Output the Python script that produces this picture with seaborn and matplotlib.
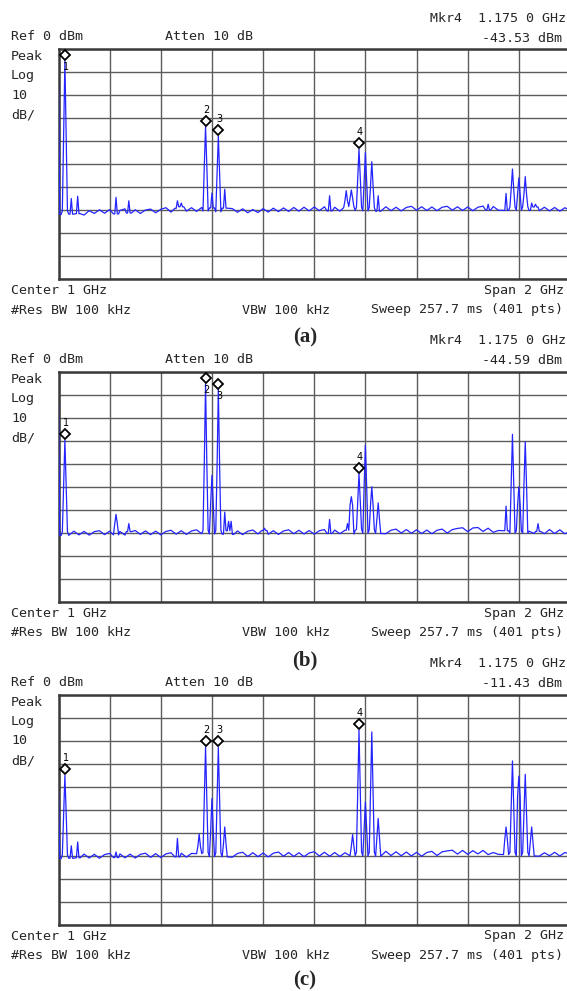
import numpy as np
import pandas as pd
import matplotlib
matplotlib.use("Agg")
import matplotlib.pyplot as plt
import seaborn as sns

sns.set_style("white")
plt.rcParams['font.family'] = ['DejaVu Sans']

# ---------------- data ----------------
floor_step = 20  # MHz between floor samples
a_floor = [-72.0,-70.4,-71.8,-70.1,-71.6,-72.2,-70.3,-71.5,-69.9,-71.4,
           -69.8,-71.7,-70.2,-69.5,-71.3,-69.9,-71.5,-70.0,-69.6,-71.2,
           -69.7,-69.0,-70.9,-69.3,-68.6,-70.5,-69.0,-70.6,-68.9,-70.4,
           -69.1,-70.8,-69.2,-70.9,-69.4,-71.0,-69.5,-71.2,-69.8,-71.1,
           -69.4,-70.9,-69.2,-70.7,-69.1,-70.6,-68.9,-70.5,-68.8,-70.4,
           -68.7,-70.3,-68.6,-70.4,-68.8,-70.5,-69.0,-68.5,-70.2,-68.8,
           -70.4,-68.9,-70.5,-69.0,-68.6,-70.3,-68.8,-70.4,-68.9,-68.4,
           -70.1,-68.6,-70.2,-68.7,-70.3,-68.8,-68.4,-70.1,-68.6,-70.2,
           -68.7,-70.3,-68.8,-68.3,-70.0,-68.5,-70.1,-68.6,-70.2,-68.7,
           -70.1,-68.6,-70.2,-68.7,-70.3,-68.8,-70.4,-68.9,-70.5,-69.0,
           -70.2]
b_floor = [-71.2,-69.6,-71.1,-69.3,-70.9,-69.4,-71.0,-69.5,-69.1,-70.8,
           -69.3,-70.9,-69.4,-71.0,-69.5,-69.0,-70.7,-69.2,-70.8,-69.3,
           -70.9,-69.4,-68.9,-70.6,-69.1,-70.7,-69.2,-68.7,-70.4,-68.9,
           -70.5,-69.0,-70.6,-69.1,-70.7,-69.2,-70.8,-69.3,-68.8,-70.5,
           -69.0,-70.6,-69.1,-70.7,-69.2,-68.7,-70.4,-68.9,-70.5,-69.0,
           -70.6,-69.1,-68.6,-70.3,-68.8,-70.4,-68.9,-70.5,-69.0,-68.5,
           -70.2,-68.7,-70.3,-68.8,-70.4,-68.9,-68.4,-70.1,-68.6,-70.2,
           -68.7,-70.3,-68.8,-70.4,-68.9,-68.4,-70.1,-68.6,-68.1,-67.8,
           -69.5,-67.9,-67.7,-69.4,-68.0,-69.8,-69.0,-70.0,-69.1,-70.1,
           -69.2,-70.2,-69.3,-70.3,-69.4,-70.4,-68.6,-70.3,-68.7,-70.4,
           -69.5]
c_floor = [-71.4,-69.7,-71.2,-69.3,-71.0,-69.4,-71.1,-69.5,-71.2,-69.6,
           -69.1,-70.9,-69.3,-71.0,-69.4,-71.1,-69.5,-69.0,-70.8,-69.2,
           -70.9,-69.3,-68.8,-70.6,-69.0,-70.7,-69.1,-70.8,-69.2,-68.7,
           -70.5,-68.9,-70.6,-69.0,-70.7,-69.1,-68.6,-70.4,-68.8,-70.5,
           -68.9,-70.6,-69.0,-68.5,-70.3,-68.7,-70.4,-68.8,-70.5,-68.9,
           -68.4,-70.2,-68.6,-70.3,-68.7,-70.4,-68.8,-68.3,-70.1,-68.5,
           -70.2,-68.6,-70.3,-68.7,-68.2,-70.0,-68.4,-70.1,-68.5,-70.2,
           -68.6,-70.3,-68.7,-68.2,-70.0,-68.4,-68.0,-67.7,-69.4,-67.8,
           -69.5,-67.9,-69.3,-67.8,-69.6,-68.7,-69.5,-68.6,-69.6,-68.7,
           -70.1,-68.6,-70.2,-68.7,-70.3,-68.8,-70.1,-68.6,-70.2,-68.7,
           -69.4]

# spikes: frequency (MHz), peak level (dBm), neighbour-bin level (dBm or None)
a_spk_f = [0, 25, 50, 75, 225, 275, 465, 480, 575, 600, 625, 650,
           1060, 1125, 1145, 1175, 1200, 1225, 1250, 1680, 1750, 1775, 1800, 1825, 1850, 1865]
a_spk_pk = [-14, -5.2, -65, -64, -64.5, -66, -66, -67, -33.8, -62.6, -37.8, -61,
            -63.8, -61.6, -61.3, -43.5, -45, -49, -63.8, -67.5, -62.8, -52.2, -56, -55.5, -67, -67.5]
a_spk_sk = [None, -37.5, None, None, None, None, None, None, -51, None, -53.8, None,
            None, -66, -65, -56.5, -57.5, -59.6, None, None, None, -61, -63, -63, None, None]

b_spk_f = [0, 25, 225, 275, 575, 600, 625, 650, 665, 675, 805,
           1060, 1130, 1145, 1175, 1200, 1225, 1250, 1750, 1775, 1800, 1825, 1875]
b_spk_pk = [-14.5, -29.7, -62, -66, -5.2, -45, -7.7, -61, -65, -65, -68,
            -64.2, -66, -54.3, -44.3, -31.9, -50, -57, -58.4, -27.2, -50, -30.4, -66]
b_spk_sk = [None, -50, -66, None, -40, -57, -41.3, None, None, None, None,
            None, None, -58, -56.5, -50, -58, -64, None, -47.8, -58, -49, None]

c_spk_f = [0, 25, 50, 75, 225, 465, 550, 575, 600, 625, 650,
           1150, 1175, 1200, 1225, 1250, 1750, 1775, 1800, 1825, 1850]
c_spk_pk = [-42.6, -35.2, -65.8, -64.1, -68.5, -62.6, -60.7, -22.8, -45.2, -23, -57.6,
            -60.9, -15.5, -46.7, -16.3, -53.9, -57.6, -28.9, -35.5, -34.7, -57.6]
c_spk_sk = [None, -51.7, None, None, None, None, -66, -46, -59, -46, -65,
            -66, -42.3, -58.6, -43, -62, -63, -49.3, -44.2, -51.7, -64]

# markers: frequency, label side
marker_f = [25, 575, 625, 1175]
a_lbl_side = ['below', 'above', 'above', 'above']
b_lbl_side = ['above', 'below', 'below', 'above']
c_lbl_side = ['above', 'above', 'above', 'above']

mkr_values = ['-43.53 dBm', '-44.59 dBm', '-11.43 dBm']
panel_labels = ['(a)', '(b)', '(c)']

# ---------------- helpers ----------------
W, H = 567, 991
fig = plt.figure(figsize=(W / 100, H / 100), dpi=100)

def fx(x):
    return x / W

def fy(y):
    return 1 - y / H

def build_trace(floor, spk_f, spk_pk, spk_sk):
    n = len(floor)
    pts = {}
    for i in range(n):
        f = i * floor_step
        if all(abs(f - s) >= 12 for s in spk_f):
            pts[f] = floor[i]
    def put(f, v):
        if f < 0:
            return
        pts[f] = max(pts.get(f, -200), v)
    for f, pk, sk in zip(spk_f, spk_pk, spk_sk):
        fl = floor[min(n - 1, int(round(f / floor_step)))]
        side = sk if sk is not None else fl
        put(f - 10, fl)
        put(f - 5, side)
        put(f, pk)
        put(f + 5, side)
        put(f + 10, fl)
    ks = sorted(pts)
    return pd.DataFrame({'freq': ks, 'level': [pts[k] for k in ks]})

panels = [
    (a_floor, a_spk_f, a_spk_pk, a_spk_sk, a_lbl_side),
    (b_floor, b_spk_f, b_spk_pk, b_spk_sk, b_lbl_side),
    (c_floor, c_spk_f, c_spk_pk, c_spk_sk, c_lbl_side),
]

mono = 'DejaVu Sans Mono'
fs = 9.6
grid_left = 58.5
grid_w = 511.5
grid_h = 230.0
tops = [49.0, 371.8, 694.5]

for p, (floor, sf, spk, ssk, sides) in enumerate(panels):
    T = tops[p]
    ax = fig.add_axes([fx(grid_left), fy(T + grid_h), grid_w / W, grid_h / H])
    df = build_trace(floor, sf, spk, ssk)
    sns.lineplot(data=df, x='freq', y='level', ax=ax, color='#2424ff',
                 lw=0.9, estimator=None, sort=True, zorder=3)
    ax.set_xlim(0, 2000)
    ax.set_ylim(-100, 0)
    ax.set_xticks(np.linspace(0, 2000, 11))
    ax.set_yticks(np.arange(-100, 1, 10))
    ax.grid(True, color='#5c5c5c', lw=1.0)
    ax.tick_params(length=0, labelbottom=False, labelleft=False)
    ax.set_xlabel('')
    ax.set_ylabel('')
    for s in ['left', 'top', 'bottom']:
        ax.spines[s].set_color('#3a3a3a')
        ax.spines[s].set_linewidth(1.8)
    ax.spines['right'].set_visible(False)

    # markers
    for k, mf in enumerate(marker_f):
        lvl = spk[sf.index(mf)]
        yv = lvl + 2.6
        ax.plot([mf], [yv], marker='D', ms=5.2, mfc='white', mec='black',
                mew=1.3, zorder=5, clip_on=False)
        dy = 11 if sides[k] == 'above' else -12
        ax.annotate(str(k + 1), (mf, yv), xytext=(1, dy), textcoords='offset pixels',
                    ha='center', va='center', fontsize=7, color='black', zorder=6)

    # header texts
    fig.text(fx(566), fy(T - 31), 'Mkr4  1.175 0 GHz', ha='right', va='center',
             family=mono, fontsize=fs)
    fig.text(fx(562), fy(T - 11), mkr_values[p], ha='right', va='center',
             family=mono, fontsize=fs)
    fig.text(fx(11), fy(T - 12), 'Ref 0 dBm', ha='left', va='center',
             family=mono, fontsize=fs)
    fig.text(fx(165), fy(T - 12), 'Atten 10 dB', ha='left', va='center',
             family=mono, fontsize=fs)
    for txt, dy in [('Peak', 7.5), ('Log', 27), ('10', 46.5), ('dB/', 66)]:
        fig.text(fx(11), fy(T + dy), txt, ha='left', va='center',
                 family=mono, fontsize=fs)
    # footer texts
    fig.text(fx(11), fy(T + 241.5), 'Center 1 GHz', ha='left', va='center',
             family=mono, fontsize=fs)
    fig.text(fx(564), fy(T + 241.5), 'Span 2 GHz', ha='right', va='center',
             family=mono, fontsize=fs)
    fig.text(fx(11), fy(T + 261), '#Res BW 100 kHz', ha='left', va='center',
             family=mono, fontsize=fs)
    fig.text(fx(242), fy(T + 261), 'VBW 100 kHz', ha='left', va='center',
             family=mono, fontsize=fs)
    fig.text(fx(563), fy(T + 261), 'Sweep 257.7 ms (401 pts)', ha='right', va='center',
             family=mono, fontsize=fs)
    fig.text(fx(305), fy(min(T + 288.5, 980.5)), panel_labels[p], ha='center', va='center',
             family='Liberation Serif', fontweight='bold', fontsize=15)

fig.savefig('out.png', dpi=100, facecolor='white')
